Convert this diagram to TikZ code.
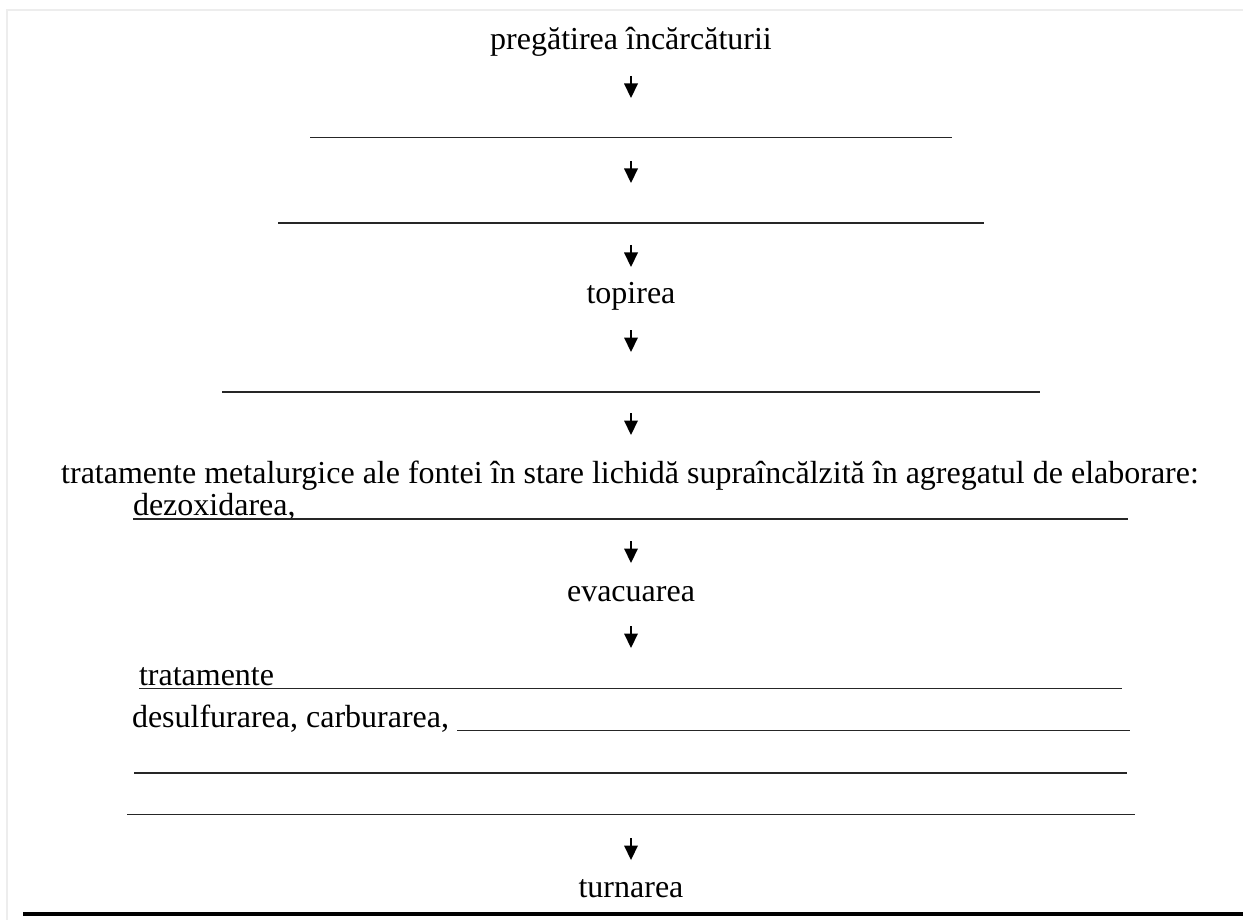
\documentclass[tikz,border=0pt]{standalone}
\usepackage{fontspec}
\setmainfont{Liberation Serif}
\begin{document}
\begin{tikzpicture}[x=0.75pt,y=-0.75pt,
  txt/.style={inner sep=0pt, outer sep=0pt, font=\fontsize{24}{28}\selectfont},
  ctxt/.style={txt, anchor=base},
  ltxt/.style={txt, anchor=base west},
  blank/.style={line width=1pt, black!85},
  shaft/.style={line width=1.5pt, black},
  frame/.style={line width=1.5pt, black!7},
  rule/.style={line width=3pt, black},
  downarr/.pic={
    \coordinate (-s) at (0,0);
    \coordinate (-m) at (0,9);
    \coordinate (-e) at (0,22);
    \coordinate (-l) at (-7,7.5);
    \coordinate (-r) at (7,7.5);
    \draw[shaft] (-s) -- (-m);
    \fill[black] (-l) -- (-r) -- (-e) -- cycle;
  }]
\useasboundingbox (0,0) rectangle (1243,920);
% light frame
\coordinate (fa) at (7,920); \coordinate (fb) at (7,10); \coordinate (fc) at (1243,10);
\draw[frame] (fa) -- (fb) -- (fc);
\node[ctxt] (t1) at (631,50) {pregătirea încărcăturii};
\pic (a1) at (631,76) {downarr};
\coordinate (l1a) at (310,137.5); \coordinate (l1b) at (952,137.5);
\draw[blank] (l1a) -- (l1b);
\pic (a2) at (631,161) {downarr};
\coordinate (l2a) at (278,223); \coordinate (l2b) at (984,223);
\draw[blank] (l2a) -- (l2b);
\pic (a3) at (631,245) {downarr};
\node[ctxt] (t2) at (631,303) {topirea};
\pic (a4) at (631,330) {downarr};
\coordinate (l3a) at (222,392); \coordinate (l3b) at (1040,392);
\draw[blank] (l3a) -- (l3b);
\pic (a5) at (631,413) {downarr};
\node[ctxt] (t3) at (630,483) {tratamente metalurgice ale fontei în stare lichidă supraîncălzită în agregatul de elaborare:};
\node[ltxt] (t4) at (133,515) {dezoxidarea,};
\coordinate (l4a) at (133,519); \coordinate (l4b) at (1128,519);
\draw[blank] (l4a) -- (l4b);
\pic (a6) at (631,541) {downarr};
\node[ctxt] (t5) at (631,601) {evacuarea};
\pic (a7) at (631,626) {downarr};
\node[ltxt] (t6) at (139,685) {tratamente};
\coordinate (l5a) at (139,688.5); \coordinate (l5b) at (1122,688.5);
\draw[blank] (l5a) -- (l5b);
\node[ltxt] (t7) at (132,727) {desulfurarea, carburarea,};
\coordinate (l6a) at ([xshift=6pt]t7.base east); \coordinate (l6b) at (1130,730.5);
\draw[blank] (l6a |- l6b) -- (l6b);
\coordinate (l7a) at (134,773); \coordinate (l7b) at (1127,773);
\draw[blank] (l7a) -- (l7b);
\coordinate (l8a) at (127,814.5); \coordinate (l8b) at (1135,814.5);
\draw[blank] (l8a) -- (l8b);
\pic (a8) at (631,838) {downarr};
\node[ctxt] (t8) at (631,897) {turnarea};
% bottom rule
\coordinate (ra) at (23,914); \coordinate (rb) at (1243,914);
\draw[rule] (ra) -- (rb);
\end{tikzpicture}
\end{document}
